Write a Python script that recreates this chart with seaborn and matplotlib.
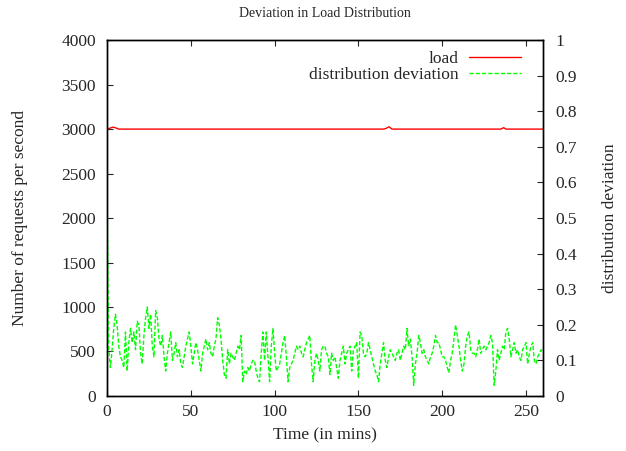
import pandas as pd
import matplotlib.pyplot as plt
import seaborn as sns

# ===== Data =====
# load (requests per second), sampled where it changes
load_time = [0, 2, 3.5, 5, 7, 165, 166.5, 168.3, 170, 235, 236.7, 238, 260]
load_value = [3000, 3012, 3022, 3015, 3000, 3000, 3008, 3026, 3000, 3000, 3016, 3000, 3000]

# distribution deviation, one value per minute (0..260)
deviation = [
    0.58, 0.13, 0.08, 0.13, 0.19, 0.23, 0.20, 0.14, 0.11, 0.10,
    0.08, 0.18, 0.07, 0.15, 0.19, 0.15, 0.18, 0.13, 0.21, 0.20,
    0.12, 0.09, 0.17, 0.22, 0.25, 0.19, 0.23, 0.14, 0.11, 0.24,
    0.22, 0.16, 0.14, 0.17, 0.11, 0.07, 0.12, 0.15, 0.18, 0.10,
    0.12, 0.15, 0.11, 0.13, 0.09, 0.08, 0.11, 0.14, 0.16, 0.18,
    0.14, 0.09, 0.12, 0.15, 0.13, 0.10, 0.07, 0.12, 0.14, 0.16,
    0.13, 0.15, 0.12, 0.11, 0.14, 0.16, 0.22, 0.20, 0.16, 0.10,
    0.06, 0.05, 0.13, 0.09, 0.12, 0.11, 0.10, 0.12, 0.14, 0.13,
    0.17, 0.04, 0.07, 0.06, 0.08, 0.07, 0.09, 0.10, 0.10, 0.07,
    0.05, 0.04, 0.12, 0.18, 0.10, 0.18, 0.11, 0.04, 0.14, 0.19,
    0.12, 0.07, 0.08, 0.09, 0.12, 0.15, 0.17, 0.11, 0.04, 0.08,
    0.09, 0.10, 0.12, 0.14, 0.13, 0.14, 0.12, 0.11, 0.13, 0.15,
    0.16, 0.17, 0.09, 0.04, 0.10, 0.12, 0.10, 0.07, 0.13, 0.14,
    0.14, 0.12, 0.11, 0.06, 0.12, 0.10, 0.11, 0.08, 0.05, 0.10,
    0.12, 0.14, 0.09, 0.12, 0.13, 0.14, 0.07, 0.13, 0.14, 0.15,
    0.05, 0.18, 0.17, 0.12, 0.11, 0.12, 0.15, 0.13, 0.11, 0.09,
    0.07, 0.06, 0.04, 0.09, 0.12, 0.15, 0.10, 0.08, 0.11, 0.13,
    0.12, 0.11, 0.10, 0.12, 0.13, 0.10, 0.12, 0.14, 0.13, 0.19,
    0.14, 0.16, 0.11, 0.03, 0.09, 0.12, 0.17, 0.15, 0.12, 0.13,
    0.11, 0.10, 0.09, 0.11, 0.12, 0.14, 0.17, 0.15, 0.15, 0.13,
    0.11, 0.11, 0.10, 0.08, 0.065, 0.10, 0.12, 0.16, 0.20, 0.17,
    0.14, 0.10, 0.07, 0.09, 0.14, 0.17, 0.18, 0.13, 0.12, 0.12,
    0.11, 0.13, 0.16, 0.12, 0.13, 0.14, 0.13, 0.14, 0.15, 0.17,
    0.15, 0.03, 0.07, 0.13, 0.10, 0.12, 0.14, 0.13, 0.18, 0.19,
    0.16, 0.11, 0.13, 0.15, 0.12, 0.13, 0.11, 0.10, 0.13, 0.14,
    0.15, 0.09, 0.12, 0.14, 0.15, 0.10, 0.09, 0.11, 0.12, 0.13,
    0.12,
]
dev_time = list(range(len(deviation)))

load_df = pd.DataFrame({"time": load_time, "load": load_value})
dev_df = pd.DataFrame({"time": dev_time, "deviation": deviation})

# ===== Style =====
sns.set_style("ticks")
plt.rcParams["font.family"] = ["Liberation Serif", "DejaVu Serif"]
fs = 12.5

fig = plt.figure(figsize=(6.26, 4.51), dpi=100)
ax = fig.add_axes([0.171, 0.122, 0.696, 0.789])
ax2 = ax.twinx()

sns.lineplot(data=load_df, x="time", y="load", ax=ax, color="#ff0000",
             linewidth=1.0, estimator=None, label="load", legend=False)
sns.lineplot(data=dev_df, x="time", y="deviation", ax=ax2, color="#00ff00",
             linewidth=1.0, linestyle=(0, (3, 1.5)), estimator=None,
             label="distribution deviation", legend=False)

ax.set_xlim(0, 260)
ax.set_ylim(0, 4000)
ax2.set_ylim(0, 1)
ax.set_xticks(range(0, 251, 50))
ax.set_yticks(range(0, 4001, 500))
ax2.set_yticks([i / 10 for i in range(11)])
ax2.set_yticklabels(["0"] + [f"0.{i}" for i in range(1, 10)] + ["1"])

ax.set_title("Deviation in Load Distribution", fontsize=10, pad=17)
ax.set_xlabel("Time (in mins)", fontsize=fs, labelpad=5)
ax.set_ylabel("Number of requests per second", fontsize=fs, labelpad=24)
ax2.set_ylabel("distribution deviation", fontsize=fs, labelpad=18)

for a in (ax, ax2):
    for s in a.spines.values():
        s.set_visible(True)
        s.set_linewidth(1.0)
        s.set_color("black")
ax.tick_params(axis="x", direction="in", top=True, length=4, labelsize=fs, pad=6)
ax.tick_params(axis="y", direction="in", left=True, right=False, length=4, labelsize=fs, pad=8)
ax2.tick_params(axis="y", direction="in", right=True, left=False, length=4, labelsize=fs, pad=9)

h1, l1 = ax.get_legend_handles_labels()
h2, l2 = ax2.get_legend_handles_labels()
ax2.legend(h1 + h2, l1 + l2, loc="upper right", bbox_to_anchor=(0.987, 1.015),
           frameon=False, markerfirst=False, handlelength=3.0,
           handletextpad=0.6, labelspacing=0.02, fontsize=fs)

fig.savefig("out.png", dpi=100)
